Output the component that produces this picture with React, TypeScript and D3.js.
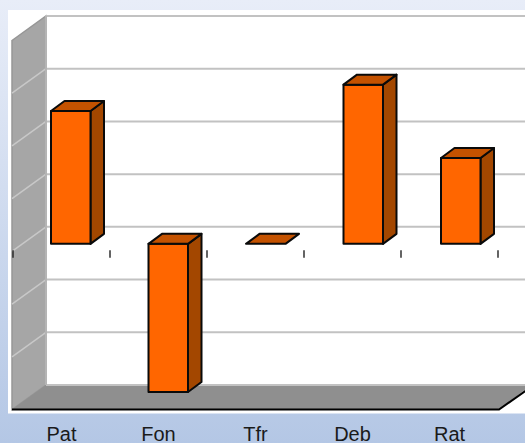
import React from 'react';
import * as d3 from 'd3';

const categories = ['Pat', 'Fon', 'Tfr', 'Deb', 'Rat'];
const values = [2.52, -2.81, 0, 3.02, 1.63];
const gridValues = [-3, -2, -1, 0, 1, 2, 3, 4];

const width = 525;
const height = 443;

// 3D projection of the plot box
const wallDx = 34;
const wallDy = 24.5;
const barDx = 13.5;
const barDy = 10;
const barWidth = 39.5;
const barInset = 38;
const barLift = 17;

// ticks and labels sit on x, the bars run a touch wider in the original
const x = d3.scaleBand<string>().domain(categories).range([13, 498]).padding(0);
const xBar = d3.scaleBand<string>().domain(categories).range([13, 500.5]).padding(0);
// y is measured on the back wall
const y = d3.scaleLinear().domain([-3, 4]).range([385, 16]);
const backLeft = 13 + wallDx - 1;
const frontBottom = y(-3) + wallDy;

const poly = (pts: [number, number][]) => pts.map((p) => p.join(',')).join(' ');

export default function App() {
  const zeroFront = y(0) + barLift;
  return (
    <svg
      width={width}
      height={height}
      style={{ position: 'absolute', left: 0, top: 0, display: 'block' }}
    >
      <defs>
        <linearGradient id="bg" x1="0" y1="0" x2="0" y2="1">
          <stop offset="0" stopColor="#e8edf8" />
          <stop offset="1" stopColor="#b4c7e5" />
        </linearGradient>
      </defs>
      <rect width={width} height={height} fill="url(#bg)" />
      <rect x={8} y={10} width={width - 8} height={403.5} fill="#fff" />

      {/* left wall */}
      <polygon
        points={poly([
          [backLeft - wallDx, y(4) + wallDy],
          [backLeft, y(4)],
          [backLeft, y(-3)],
          [backLeft - wallDx, frontBottom],
        ])}
        fill="#a6a6a6"
        stroke="#969696"
        strokeWidth={1.5}
      />
      {/* floor */}
      <polygon
        points={poly([
          [backLeft - wallDx, frontBottom],
          [backLeft, y(-3)],
          [width + 1, y(-3)],
          [width + 1, y(-3) + 4],
          [499, frontBottom],
        ])}
        fill="#8f8f8f"
      />
      <polyline
        points={poly([
          [backLeft - wallDx, frontBottom],
          [499, frontBottom],
          [width + 1, frontBottom - 19],
        ])}
        fill="none"
        stroke="#000"
        strokeWidth={2}
      />

      {/* grid */}
      {gridValues.map((v) => (
        <g key={v}>
          <line x1={backLeft} x2={width} y1={y(v)} y2={y(v)} stroke="#c2c2c2" strokeWidth={2} />
          {v > -3 && v < 4 && (
            <line
              x1={backLeft}
              x2={backLeft - wallDx}
              y1={y(v)}
              y2={y(v) + wallDy}
              stroke="#c8c8c8"
              strokeWidth={1.5}
            />
          )}
        </g>
      ))}
      <line x1={backLeft} x2={backLeft} y1={y(4)} y2={y(-3)} stroke="#b4b4b4" strokeWidth={2} />

      {/* category ticks */}
      {[...categories.map((c) => x(c) as number), 498].map((t) => (
        <line key={t} x1={t} x2={t} y1={y(0) + 23.5} y2={y(0) + 31} stroke="#222" strokeWidth={1.4} />
      ))}

      {/* bars */}
      {categories.map((c, i) => {
        const left = (xBar(c) as number) + barInset;
        const right = left + barWidth;
        const yv = y(values[i]) + barLift;
        const top = Math.min(yv, zeroFront);
        const bottom = Math.max(yv, zeroFront);
        return (
          <g key={c} stroke="#0a0a0a" strokeWidth={2} strokeLinejoin="round">
            {bottom > top && (
              <>
                <polygon
                  points={poly([
                    [right, top],
                    [right + barDx, top - barDy],
                    [right + barDx, bottom - barDy],
                    [right, bottom],
                  ])}
                  fill="#a34700"
                />
                <rect x={left} y={top} width={barWidth} height={bottom - top} fill="#ff6600" />
              </>
            )}
            <polygon
              points={poly([
                [left, top],
                [left + barDx, top - barDy],
                [right + barDx, top - barDy],
                [right, top],
              ])}
              fill="#c45200"
            />
          </g>
        );
      })}

      {/* category labels */}
      {categories.map((c) => (
        <text
          key={c}
          x={(x(c) as number) + x.bandwidth() / 2}
          y={440.5}
          textAnchor="middle"
          fontFamily="'Liberation Sans', Arial, sans-serif"
          fontSize={20}
          fill="#1a1a1a"
        >
          {c}
        </text>
      ))}
    </svg>
  );
}
